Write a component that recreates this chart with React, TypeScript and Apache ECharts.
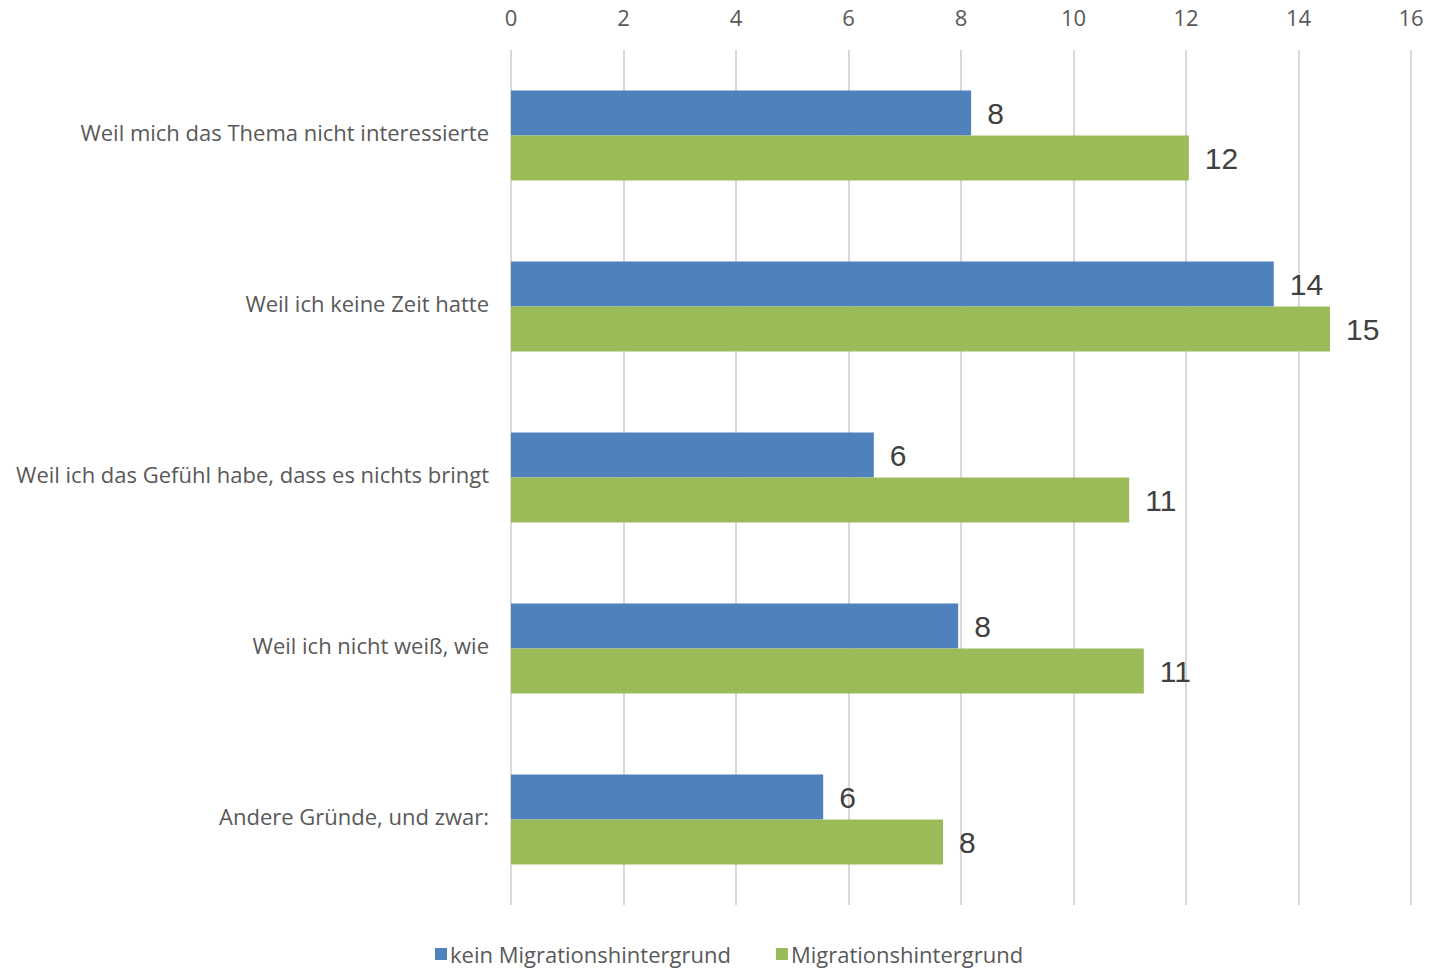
import React, { useEffect, useRef } from "react";
import * as echarts from "echarts";

const categories = [
  "Weil mich das Thema nicht interessierte",
  "Weil ich keine Zeit hatte",
  "Weil ich das Gefühl habe, dass es nichts bringt",
  "Weil ich nicht weiß, wie",
  "Andere Gründe, und zwar:",
];
const seriesNames = ["kein Migrationshintergrund", "Migrationshintergrund"];
const keinMigration = [8.18, 13.56, 6.45, 7.95, 5.55];
const migration = [12.05, 14.56, 10.99, 11.25, 7.68];
const colors = ["#4F81BD", "#9BBB59"];

export default function App() {
  const ref = useRef<HTMLDivElement>(null);
  useEffect(() => {
    if (!ref.current) return;
    const chart = echarts.init(ref.current, null, { renderer: "svg" });
    const textFont = "'Open Sans', 'Noto Sans', sans-serif";
    const label = {
      show: true,
      position: "right",
      distance: 16,
      fontSize: 30,
      color: "#404040",
      fontFamily: "'Liberation Sans', Arial, sans-serif",
      formatter: (p: any) => String(Math.round(p.value)),
    };
    chart.setOption({
      animation: false,
      color: colors,
      grid: { left: 511, right: 18, top: 50, bottom: 65, containLabel: false },
      legend: {
        bottom: 0,
        left: 430,
        itemWidth: 12,
        itemHeight: 12,
        itemGap: 45,
        icon: "rect",
        textStyle: { fontSize: 22, color: "#595959", fontFamily: textFont, padding: [0, 0, 0, -2] },
        data: seriesNames,
      },
      xAxis: {
        type: "value",
        position: "top",
        min: 0,
        max: 16,
        interval: 2,
        axisLine: { show: false },
        axisTick: { show: false },
        axisLabel: { fontSize: 22, color: "#595959", fontFamily: textFont, margin: 22 },
        splitLine: { lineStyle: { color: "#D9D9D9", width: 2 } },
      },
      yAxis: {
        type: "category",
        data: categories,
        inverse: true,
        axisLine: { show: false },
        axisTick: { show: false },
        axisLabel: {
          margin: 22,
          formatter: (v: string) => "{a|" + v + "}",
          rich: {
            a: {
              fontSize: 22,
              color: "#595959",
              fontFamily: textFont,
              padding: [0, 0, 7, 0],
            },
          },
        },
      },
      series: [
        {
          name: seriesNames[0],
          type: "bar",
          data: keinMigration,
          barWidth: 45,
          barGap: "0%",
          label,
        },
        {
          name: seriesNames[1],
          type: "bar",
          data: migration,
          barWidth: 45,
          barGap: "0%",
          label,
        },
      ],
    });
    return () => chart.dispose();
  }, []);
  return (
    <div
      ref={ref}
      style={{ position: "fixed", left: 0, top: 0, width: 1429, height: 970, background: "#fff" }}
    />
  );
}
